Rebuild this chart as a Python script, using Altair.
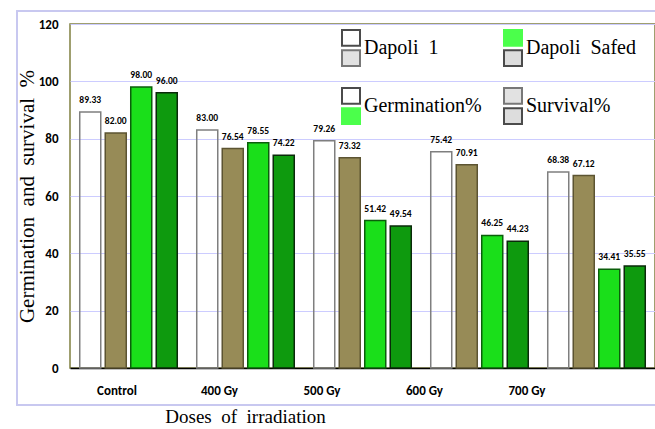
import altair as alt
import pandas as pd

# ---------------- data ----------------
doses = ["Control", "400 Gy", "500 Gy", "600 Gy", "700 Gy"]
series = ["Dapoli 1 Germination%", "Dapoli 1 Survival%",
          "Dapoli Safed Germination%", "Dapoli Safed Survival%"]
d1_germ = [89.33, 83.00, 79.26, 75.42, 68.38]
d1_surv = [82.00, 76.54, 73.32, 70.91, 67.12]
ds_germ = [98.00, 78.55, 51.42, 46.25, 34.41]
ds_surv = [96.00, 74.22, 49.54, 44.23, 35.55]
y_ticks = [0, 20, 40, 60, 80, 100, 120]
# legend fills column by column: (Dapoli 1, Germination%) then (Dapoli Safed, Survival%)
legend_entries = ["Dapoli\u00a0\u00a01", "Germination%", "Dapoli\u00a0\u00a0Safed", "Survival%"]

# ---------------- styles ----------------
bar_fill = ["transparent", "#978B57", "#1ADF1A", "#0E9A0E"]
bar_stroke = ["#7F7F7F", "#5C5432", "#0B5E0B", "#0A2A0A"]
leg_top_fill = ["#FFFFFF", "#FFFFFF", "#00FF00", "#D6D6D6"]
leg_top_stroke = ["#000000", "#000000", "#00FF00", "#404040"]
leg_bot_fill = ["#D6D6D6", "#00FF00", "#CFCFCF", "#CFCFCF"]
leg_bot_stroke = ["#404040", "#00FF00", "#000000", "#000000"]
TOP_PATH = "M-1,-2H1V-0.25H-1Z"
BOT_PATH = "M-1,0.25H1V2H-1Z"
SANS = "Carlito, Lato, sans-serif"
SERIF = "Liberation Serif"

values_by_series = [d1_germ, d1_surv, ds_germ, ds_surv]
rows = []
for s, vals in zip(series, values_by_series):
    for d, v in zip(doses, vals):
        rows.append({"dose": d, "series": s, "value": v})
df = pd.DataFrame(rows)
leg_df = pd.DataFrame({"entry": legend_entries})

x_enc = alt.X(
    "dose:N", sort=doses,
    scale=alt.Scale(paddingInner=0, paddingOuter=0),
    axis=alt.Axis(
        labelAngle=0, ticks=False, domain=True, domainColor="#000000", domainWidth=1.5,
        grid=False, labelFont=SANS, labelFontWeight="bold", labelFontSize=13,
        labelColor="#000000", labelPadding=16,
        labelOffset={"expr": "-11.5 - 58*datum.index"},
        title="Doses\u00a0 of\u00a0 irradiation", titleFont=SERIF, titleFontSize=19,
        titleFontWeight="normal", titleColor="#000000",
        titleX=175, titleY=54, titleBaseline="alphabetic", titleAlign="center",
    ),
)
xoff_enc = alt.XOffset("series:N", sort=series,
                       scale=alt.Scale(paddingInner=0.176, paddingOuter=0.382))
y_enc = alt.Y(
    "value:Q", scale=alt.Scale(domain=[0, 120], nice=False),
    axis=alt.Axis(
        values=y_ticks, grid=True, gridColor="#CCCCFF", gridWidth=1, ticks=False,
        domain=False, labelFont=SANS, labelFontWeight="bold", labelFontSize=13,
        labelColor="#000000", labelPadding=12,
        title="Germination\u00a0 and\u00a0 survival\u00a0 %", titleFont=SERIF,
        titleFontSize=21, titleFontWeight="normal", titleColor="#000000",
        titleX=-37, titleY=172, titleBaseline="alphabetic", titleAlign="center",
    ),
)

base = alt.Chart(df)

frame = alt.Chart(leg_df).mark_rect(fill="transparent", stroke="#C8C8F0", strokeWidth=1.5).encode(
    x=alt.value(-53), x2=alt.value(700), y=alt.value(-13), y2=alt.value(381)
)

bars = base.mark_bar(strokeWidth=1.5).encode(
    x=x_enc, xOffset=xoff_enc, y=y_enc,
    fill=alt.Fill("series:N", scale=alt.Scale(domain=series, range=bar_fill), legend=None),
    stroke=alt.Stroke("series:N", scale=alt.Scale(domain=series, range=bar_stroke), legend=None),
)

labels = base.mark_text(font=SANS, fontSize=9.5, fontWeight="bold", baseline="alphabetic",
                        dy=-9, color="#000000").encode(
    x=alt.X("dose:N", sort=doses), xOffset=alt.XOffset("series:N", sort=series),
    y="value:Q", text=alt.Text("value:Q", format=".2f"),
)


def legend(sym, label_opacity):
    return alt.Legend(
        title=None, orient="none", legendX=271, legendY=14, columns=2,
        symbolType=sym, symbolSize=324, symbolStrokeWidth=2,
        labelFont=SERIF, labelFontSize=20, labelColor="#000000", labelOpacity=label_opacity,
        labelOffset=3, columnPadding=18, rowPadding=26, padding=0, offset=0,
        labelLimit=300,
    )


leg_top = alt.Chart(leg_df).mark_point(filled=True, size=0, strokeWidth=2).encode(
    fill=alt.Fill("entry:N", sort=legend_entries,
                  scale=alt.Scale(domain=legend_entries, range=leg_top_fill),
                  legend=legend(TOP_PATH, 1)),
    stroke=alt.Stroke("entry:N", sort=legend_entries,
                      scale=alt.Scale(domain=legend_entries, range=leg_top_stroke),
                      legend=legend(TOP_PATH, 1)),
)

leg_bot = alt.Chart(leg_df).mark_point(filled=True, size=0, strokeWidth=2).encode(
    fill=alt.Fill("entry:N", sort=legend_entries,
                  scale=alt.Scale(domain=legend_entries, range=leg_bot_fill),
                  legend=legend(BOT_PATH, 0)),
    stroke=alt.Stroke("entry:N", sort=legend_entries,
                      scale=alt.Scale(domain=legend_entries, range=leg_bot_stroke),
                      legend=legend(BOT_PATH, 0)),
)

chart = alt.layer(frame, bars, labels, leg_top, leg_bot).resolve_scale(
    fill="independent", stroke="independent"
).resolve_legend(fill="independent", stroke="independent").properties(
    width=585, height=344,
    autosize=alt.AutoSizeParams(type="none"),
    padding={"left": 70, "top": 24, "right": 0, "bottom": 61},
    background="#FFFFFF",
).configure_view(stroke="#808040", strokeWidth=1.5, fill="#FFFFFF")

chart.save("out.html", embed_options={"renderer": "svg", "actions": False})
